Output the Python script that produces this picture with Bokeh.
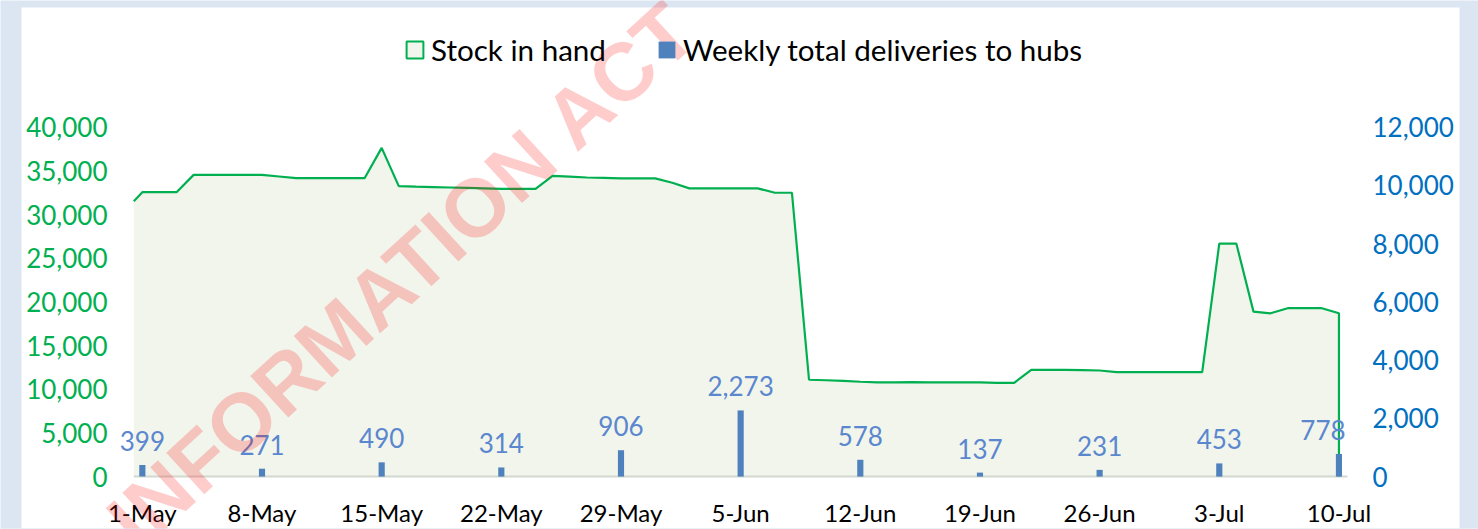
import pandas as pd
from bokeh.plotting import figure
from bokeh.models import (Range1d, LinearAxis, FixedTicker, DatetimeTickFormatter,
                          NumeralTickFormatter, Legend, LegendItem, Label, BoxAnnotation,
                          ColumnDataSource)
from bokeh.core.properties import value
from bokeh.embed import file_html
from bokeh.resources import INLINE

# ---------------- data ----------------
stock_dates = [pd.Timestamp("2021-04-30 12:00")] + list(pd.date_range("2021-05-01", "2021-07-10", freq="D"))
stock_in_hand = [
    31540,                                                                  # line start
    32570, 32570, 32570, 34550, 34550, 34550, 34550, 34550, 34360, 34170,   # 1-10 May
    34170, 34170, 34170, 34170, 37640, 33260, 33200, 33150, 33100, 33050,   # 11-20 May
    33000, 32950, 32950, 32950, 34440, 34350, 34250, 34200, 34140, 34140,   # 21-30 May
    34140,                                                                  # 31 May
    33640, 33000, 33000, 33000, 33000, 33000, 32500, 32500, 11090, 11030,   # 1-10 Jun
    10970, 10860, 10800, 10800, 10820, 10800, 10780, 10780, 10780, 10740,   # 11-20 Jun
    10740, 12230, 12230, 12230, 12200, 12150, 11960, 11960, 11960, 11960,   # 21-30 Jun
    11960, 11960, 26670, 26670, 18890, 18700, 19280, 19280, 19280, 18700,   # 1-10 Jul
]
week_dates = pd.date_range("2021-05-01", "2021-07-10", freq="7D")
deliveries = [399, 271, 490, 314, 906, 2273, 578, 137, 231, 453, 778]
left_ticks = list(range(0, 40001, 5000))
right_ticks = list(range(0, 12001, 2000))
left_max, right_max = 40000, 12000

# ---------------- styles / layout ----------------
GREEN = "#00b050"
AREA = "#f2f5ec"
BAR = "#4f81bd"
LABEL_BLUE = "#5b87cf"
RIGHT_BLUE = "#0070c0"
PAGE_BLUE = "#dce6f2"
FONT = "Lato"
W, H = 1478, 529
PL, PR, PT, PB = 133.3, 1347.0, 127.0, 477.0   # plotting area in canvas pixels

DAY_MS = 86400000.0
def ms(ts):
    return pd.Timestamp(ts).value / 1e6

x0 = ms(week_dates[0]) - DAY_MS / 2
x1 = ms(week_dates[-1]) + DAY_MS / 2
sx = (x1 - x0) / (PR - PL)
sy_l = left_max / (PB - PT)
sy_r = right_max / (PB - PT)

p = figure(width=W, height=H, x_axis_type="datetime",
           x_range=Range1d(x0 - PL * sx, x1 + (W - PR) * sx),
           y_range=Range1d(-(H - PB) * sy_l, left_max + PT * sy_l),
           output_backend="svg", toolbar_location=None,
           min_border=0, min_border_left=0, min_border_right=0,
           min_border_top=0, min_border_bottom=0)
p.extra_y_ranges = {"right": Range1d(-(H - PB) * sy_r, right_max + PT * sy_r)}
p.outline_line_color = None
p.background_fill_color = PAGE_BLUE
p.border_fill_color = PAGE_BLUE
p.xgrid.visible = False
p.ygrid.visible = False

# white chart panel
p.add_layout(BoxAnnotation(left=21, right=1459, bottom=0, top=H - 8,
                           left_units="screen", right_units="screen",
                           bottom_units="screen", top_units="screen",
                           fill_color="white", fill_alpha=1.0,
                           line_color=None, level="underlay"))

# area + line
xs = [ms(d) for d in stock_dates]
p.varea(x=xs, y1=0, y2=stock_in_hand, fill_color=AREA)
# zero-size swatch renderer used only for the legend box of the area series
swatch = p.quad(left=[x0], right=[x0], top=[0], bottom=[0], fill_color=AREA,
                line_color=GREEN, line_width=2)
# category axis baseline
p.segment(x0=[x0], y0=[0], x1=[x1], y1=[0], line_color="#d3d8cf", line_width=2)
p.line(x=xs + [xs[-1]], y=stock_in_hand + [0], line_color=GREEN, line_width=2.2)

# bars
wx = [ms(d) for d in week_dates]
bars = p.vbar(x=wx, top=deliveries, width=0.36 * DAY_MS, y_range_name="right",
              fill_color=BAR, line_color=None)

# data labels
lab = ["{:,}".format(v) for v in deliveries]
src = ColumnDataSource(dict(x=wx[:-1], y=deliveries[:-1], t=lab[:-1]))
p.text(x="x", y="y", text="t", source=src, y_range_name="right",
       text_font=value(FONT), text_font_size="26px", text_color=LABEL_BLUE,
       text_align="center", text_baseline="middle", y_offset=-24)
src2 = ColumnDataSource(dict(x=wx[-1:], y=deliveries[-1:], t=lab[-1:]))
p.text(x="x", y="y", text="t", source=src2, y_range_name="right",
       text_font=value(FONT), text_font_size="26px", text_color=LABEL_BLUE,
       text_align="center", text_baseline="middle", y_offset=-24, x_offset=-16)

# axes (drawn inward, onto the canvas)
xa = p.xaxis[0]
xa.ticker = FixedTicker(ticks=wx)
xa.formatter = DatetimeTickFormatter(days="%-d-%b", months="%-d-%b", hours="%-d-%b")
xa.major_label_text_font = FONT
xa.major_label_text_font_size = "24px"
xa.major_label_text_color = "#000000"
xa.major_label_standoff = -37
xa.axis_line_color = None
xa.major_tick_line_color = None
xa.minor_tick_line_color = None

ya = p.yaxis[0]
ya.ticker = FixedTicker(ticks=left_ticks)
ya.formatter = NumeralTickFormatter(format="0,0")
ya.major_label_text_font = FONT
ya.major_label_text_font_size = "26px"
ya.major_label_text_color = GREEN
ya.major_label_standoff = -113
ya.axis_line_color = None
ya.major_tick_line_color = None
ya.minor_tick_line_color = None

ra = LinearAxis(y_range_name="right", ticker=FixedTicker(ticks=right_ticks),
                formatter=NumeralTickFormatter(format="0,0"))
ra.major_label_text_font = FONT
ra.major_label_text_font_size = "26px"
ra.major_label_text_color = RIGHT_BLUE
ra.major_label_standoff = -112
ra.axis_line_color = None
ra.major_tick_line_color = None
ra.minor_tick_line_color = None
p.add_layout(ra, "right")

# legend
legend = Legend(items=[LegendItem(label="Stock in hand", renderers=[swatch]),
                       LegendItem(label="Weekly total deliveries to hubs", renderers=[bars])],
                location=(404, 461), orientation="horizontal",
                label_text_font=FONT, label_text_font_size="29.6px",
                label_text_color="#000000", glyph_width=21, glyph_height=21,
                label_standoff=6, spacing=50, padding=0, margin=0,
                border_line_color=None, background_fill_alpha=0)
p.add_layout(legend)

# watermark
p.add_layout(Label(x=120, y=-4, x_units="screen", y_units="screen",
                   text="INFORMATION ACT", angle=42.5, angle_units="deg",
                   text_font="Liberation Sans", text_font_style="bold",
                   text_font_size="82px", text_color="#ff0000", text_alpha=0.2,
                   text_align="left", text_baseline="alphabetic"))

open("out.html", "w").write(file_html(p, INLINE))
